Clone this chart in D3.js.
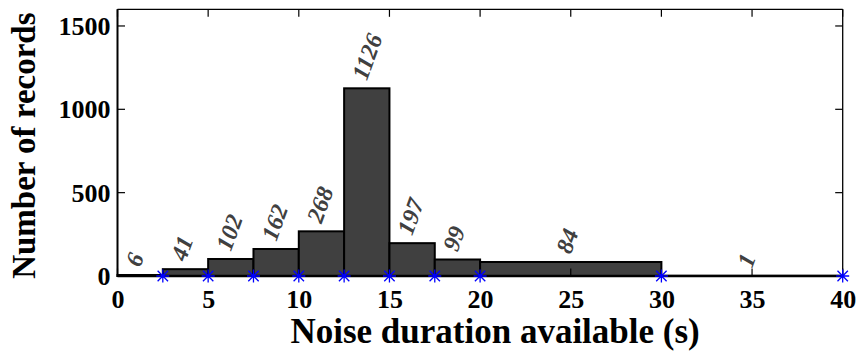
<!DOCTYPE html>
<html><head><meta charset="utf-8">
<script src="https://cdn.jsdelivr.net/npm/d3@7"></script>
<style>body{margin:0;background:#fff} text{font-family:'Liberation Serif','Times New Roman',serif;}</style></head>
<body>
<svg id="c" width="858" height="352"></svg>
<script>
const binEdges = [0, 2.5, 5, 7.5, 10, 12.5, 15, 17.5, 20, 30, 40];
const counts = [6, 41, 102, 162, 268, 1126, 197, 99, 84, 1];
const markerEdges = [2.5, 5, 7.5, 10, 12.5, 15, 17.5, 20, 30, 40];
const xTicks = [0, 5, 10, 15, 20, 25, 30, 35, 40];
const yTicks = [0, 500, 1000, 1500];
const xTitle = "Noise duration available (s)";
const yTitle = "Number of records";

const svg = d3.select("#c");
const L = 117.5, R = 842.7, T = 9.3, B = 276;
const x = d3.scaleLinear().domain([0, 40]).range([L, R]);
const y = d3.scaleLinear().domain([0, 1600]).range([B, T]);
const serif = "'Liberation Serif','Times New Roman',serif";

const bins = counts.map((c, i) => ({x0: binEdges[i], x1: binEdges[i + 1], c}));

// bars
svg.append("g").selectAll("rect").data(bins).join("rect")
  .attr("x", d => x(d.x0)).attr("width", d => x(d.x1) - x(d.x0))
  .attr("y", d => y(d.c)).attr("height", d => y(0) - y(d.c))
  .attr("fill", "#404040").attr("stroke", "#000").attr("stroke-width", 2);

// frame ticks
const tk = 7.5;
const gT = svg.append("g");
xTicks.forEach(v => {
  gT.append("line").attr("x1", x(v)).attr("x2", x(v)).attr("y1", T).attr("y2", T + tk);
  gT.append("line").attr("x1", x(v)).attr("x2", x(v)).attr("y1", B).attr("y2", B - tk);
});
yTicks.forEach(v => {
  gT.append("line").attr("x1", L).attr("x2", L + tk).attr("y1", y(v)).attr("y2", y(v));
  gT.append("line").attr("x1", R).attr("x2", R - tk).attr("y1", y(v)).attr("y2", y(v));
});
gT.selectAll("line").attr("stroke", "#000").attr("stroke-width", 1.2);

// frame
svg.append("line").attr("x1", L).attr("x2", R).attr("y1", T).attr("y2", T).attr("stroke", "#000").attr("stroke-width", 1.3);
svg.append("line").attr("x1", R).attr("x2", R).attr("y1", T).attr("y2", B).attr("stroke", "#000").attr("stroke-width", 1.3);
svg.append("line").attr("x1", L).attr("x2", L).attr("y1", T).attr("y2", B + 1).attr("stroke", "#000").attr("stroke-width", 2);
svg.append("line").attr("x1", L).attr("x2", R).attr("y1", B).attr("y2", B).attr("stroke", "#000").attr("stroke-width", 2.5);

// tick labels via axes
const gx = svg.append("g").attr("transform", `translate(0,${B})`)
  .call(d3.axisBottom(x).tickValues(xTicks).tickSize(0).tickPadding(32).tickFormat(d3.format("d")));
const gy = svg.append("g").attr("transform", `translate(${L},0)`)
  .call(d3.axisLeft(y).tickValues(yTicks).tickSize(0).tickPadding(7).tickFormat(d3.format("d")));
[gx, gy].forEach(g => {
  g.attr("font-family", serif);
  g.select(".domain").remove();
  g.selectAll("text").style("font-family", serif).attr("font-weight", "bold")
    .attr("font-size", 26).attr("fill", "#000");
});
gx.selectAll("text").attr("dy", 0);
gy.selectAll("text").attr("dy", "0.33em");

// value labels
svg.append("g").selectAll("text").data(bins).join("text")
  .attr("transform", d => `translate(${x((d.x0 + d.x1) / 2)},${y(d.c) - 7}) rotate(-70)`)
  .style("font-family", serif).attr("font-weight", "bold").attr("font-style", "italic")
  .attr("font-size", 24).attr("fill", "#404040")
  .text(d => d.c);

// markers
const r = 6.5, rd = r * 0.8;
const star = `M0,${-r}V${r}M${-r},0H${r}M${-rd},${-rd}L${rd},${rd}M${-rd},${rd}L${rd},${-rd}`;
svg.append("g").selectAll("path").data(markerEdges).join("path")
  .attr("transform", d => `translate(${x(d)},${y(0)})`)
  .attr("d", star).attr("stroke", "#0000ff").attr("stroke-width", 1.3).attr("fill", "none");

// titles
svg.append("text").attr("x", (L + R) / 2 + 15).attr("y", 343)
  .attr("text-anchor", "middle").style("font-family", serif).attr("font-weight", "bold")
  .attr("font-size", 35).attr("fill", "#000").text(xTitle);
svg.append("text").attr("transform", `translate(35,${(T + B) / 2 + 3}) rotate(-90)`)
  .attr("text-anchor", "middle").style("font-family", serif).attr("font-weight", "bold")
  .attr("font-size", 33).attr("fill", "#000").text(yTitle);
</script>
</body></html>
